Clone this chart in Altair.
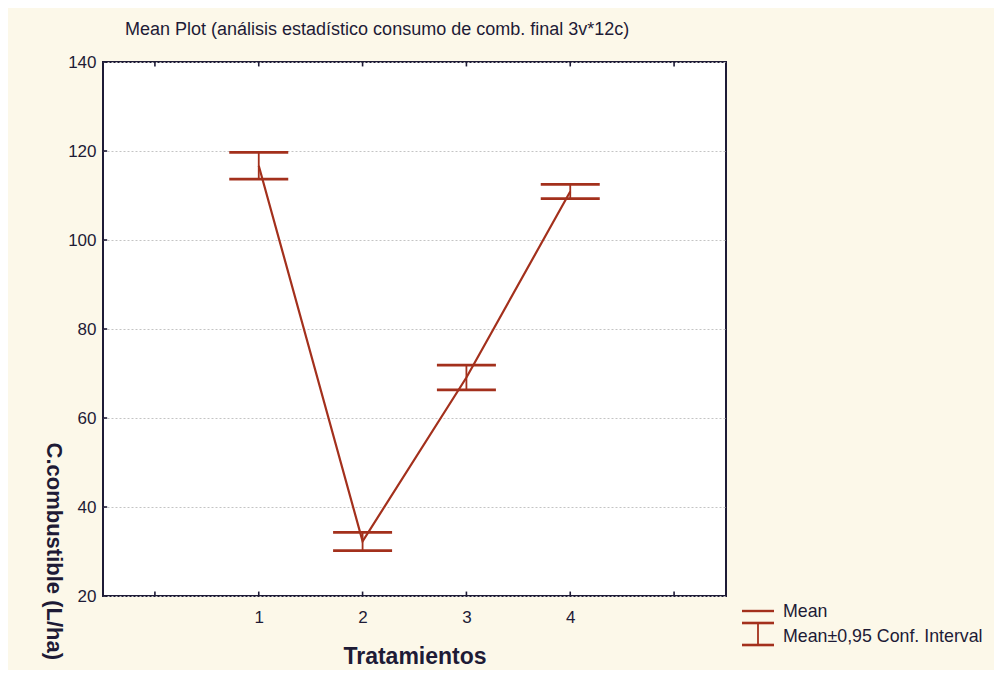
import altair as alt
import pandas as pd

# ---- data ----
treatments = [1, 2, 3, 4]
means = [116.7, 32.3, 69.1, 110.9]
lower = [113.7, 30.2, 66.3, 109.3]
upper = [119.7, 34.3, 71.9, 112.5]

x_domain = [-0.5, 5.5]
y_domain = [20, 140]
x_tick_values = [0, 1, 2, 3, 4, 5]
x_label_values = [1, 2, 3, 4]
y_tick_values = [20, 40, 60, 80, 100, 120, 140]
legend_labels = ["Mean", "Mean±0,95 Conf. Interval"]

title_text = "Mean Plot (análisis estadístico consumo de comb. final 3v*12c)"
x_title = "Tratamientos"
y_title = "C.combustible (L/ha)"

RED = "#A3301C"
DARK = "#1E1B36"
FONT = "Liberation Sans"
BG = "#FCF8E9"

W, H = 623, 534

df = pd.DataFrame({"t": treatments, "mean": means, "lower": lower, "upper": upper})

xs = alt.Scale(domain=x_domain, nice=False, zero=False)
ys = alt.Scale(domain=y_domain, nice=False, zero=False)

X_AX = alt.Axis(title=x_title, values=x_label_values, grid=False, tickSize=0,
                domain=False, labelFontSize=17, labelColor=DARK, labelFont=FONT,
                labelPadding=13, titleFontSize=23, titleFontWeight="bold",
                titleColor=DARK, titleFont=FONT, titleY=60, titleBaseline="middle",
                format="d")
Y_AX = alt.Axis(title=y_title, values=y_tick_values, grid=True, gridDash=[2, 2],
                gridColor="#C4C4C4", gridWidth=1, tickSize=0, domain=False,
                labelFontSize=17, labelColor=DARK, labelFont=FONT, labelPadding=7,
                titleFontSize=22, titleFontWeight="bold", titleColor=DARK,
                titleFont=FONT, titleAngle=90, titleAlign="left",
                titleBaseline="middle", titleX=-50, titleY=380)

base = alt.Chart(df)

line = base.mark_line(color=RED, strokeWidth=2.2).encode(
    x=alt.X("t:Q", scale=xs, axis=X_AX),
    y=alt.Y("mean:Q", scale=ys, axis=Y_AX),
)
stem = base.mark_rule(color=RED, strokeWidth=1.8).encode(
    x=alt.X("t:Q", scale=xs, axis=X_AX),
    y=alt.Y("lower:Q", scale=ys, axis=Y_AX),
    y2="upper:Q",
)
cap_lo = base.mark_tick(orient="horizontal", size=59, thickness=2.8, color=RED, opacity=1).encode(
    x=alt.X("t:Q", scale=xs, axis=X_AX),
    y=alt.Y("lower:Q", scale=ys, axis=Y_AX),
)
cap_hi = base.mark_tick(orient="horizontal", size=59, thickness=2.8, color=RED, opacity=1).encode(
    x=alt.X("t:Q", scale=xs, axis=X_AX),
    y=alt.Y("upper:Q", scale=ys, axis=Y_AX),
)

# inside tick marks on the frame
step_y = (y_domain[1] - y_domain[0]) / 120.0
step_x = (x_domain[1] - x_domain[0]) / 150.0
bt = pd.DataFrame({"t": x_tick_values, "y0": y_domain[0], "y1": y_domain[0] + step_y})
tt = pd.DataFrame({"t": x_tick_values, "y0": y_domain[1], "y1": y_domain[1] - step_y})
lt = pd.DataFrame({"v": y_tick_values, "x0": x_domain[0], "x1": x_domain[0] + step_x})

ticks_b = alt.Chart(bt).mark_rule(color=DARK, strokeWidth=1.6).encode(
    x=alt.X("t:Q", scale=xs, axis=X_AX), y=alt.Y("y0:Q", scale=ys, axis=Y_AX), y2="y1:Q")
ticks_t = alt.Chart(tt).mark_rule(color=DARK, strokeWidth=1.6).encode(
    x=alt.X("t:Q", scale=xs, axis=X_AX), y=alt.Y("y0:Q", scale=ys, axis=Y_AX), y2="y1:Q")
ticks_l = alt.Chart(lt).mark_rule(color=DARK, strokeWidth=1.6).encode(
    x=alt.X("x0:Q", scale=xs, axis=X_AX), x2="x1:Q", y=alt.Y("v:Q", scale=ys, axis=Y_AX))

# manual legend (outside the plot, lower right)
leg0 = pd.DataFrame({"label": [legend_labels[0]]})
leg1 = pd.DataFrame({"label": [legend_labels[1]]})
leg_line = alt.Chart(leg0).mark_rule(color=RED, strokeWidth=2.4).encode(
    x=alt.value(639), x2=alt.value(671), y=alt.value(549))
leg_text0 = alt.Chart(leg0).mark_text(align="left", baseline="middle", fontSize=17.8,
                                      font=FONT, color=DARK).encode(
    text="label:N", x=alt.value(680), y=alt.value(550))
leg_cap1 = alt.Chart(leg1).mark_rule(color=RED, strokeWidth=2.6).encode(
    x=alt.value(639), x2=alt.value(671), y=alt.value(561))
leg_cap2 = alt.Chart(leg1).mark_rule(color=RED, strokeWidth=2.6).encode(
    x=alt.value(639), x2=alt.value(671), y=alt.value(583))
leg_stem = alt.Chart(leg1).mark_rule(color=RED, strokeWidth=1.8).encode(
    x=alt.value(655), y=alt.value(561), y2=alt.value(583))
leg_text1 = alt.Chart(leg1).mark_text(align="left", baseline="middle", fontSize=17.8,
                                      font=FONT, color=DARK).encode(
    text="label:N", x=alt.value(680), y=alt.value(575))

chart = alt.layer(
    line, stem, cap_lo, cap_hi, ticks_b, ticks_t, ticks_l,
    leg_line, leg_text0, leg_cap1, leg_cap2, leg_stem, leg_text1,
).properties(
    width=W, height=H,
    title=alt.TitleParams(title_text, anchor="start", frame="group", dx=22,
                          fontSize=18, font=FONT, fontWeight="normal",
                          color=DARK, offset=14),
    autosize=alt.AutoSizeParams(type="none"),
    padding={"left": 95, "top": 54, "right": 268, "bottom": 74},
    background=BG,
).configure_view(
    stroke=DARK, strokeWidth=2, fill="white"
)

chart.save("out.html", embed_options={"renderer": "svg", "actions": False})
